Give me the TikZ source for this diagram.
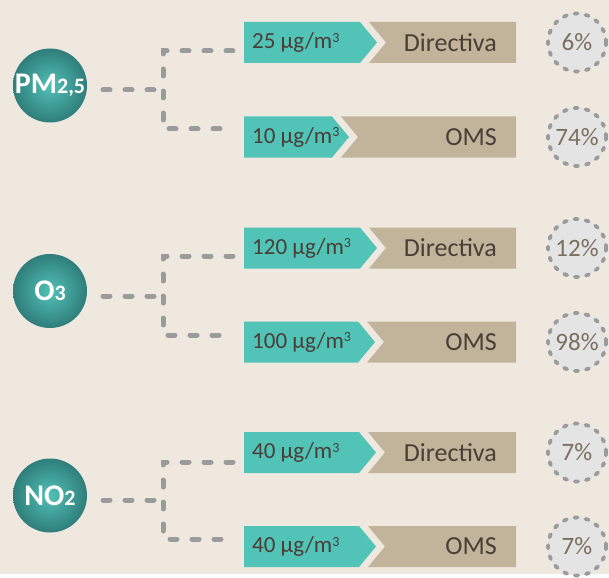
\documentclass[tikz,border=0pt]{standalone}
\usepackage{fontspec}
\setmainfont{Carlito}

\definecolor{paper}{HTML}{EFE8DF}
\definecolor{tealband}{HTML}{52C3B7}
\definecolor{tanband}{HTML}{C2B49A}
\definecolor{bandtext}{HTML}{4A3E37}
\definecolor{linkgray}{HTML}{9B9B9B}
\definecolor{pctfill}{HTML}{E4E4E4}
\definecolor{pcttext}{HTML}{7B6F5F}
\definecolor{ballin}{HTML}{52C1B6}
\definecolor{ballout}{HTML}{2F7E7B}

\newcommand{\cubic}{\raisebox{6.5pt}{\fontsize{14}{14}\selectfont 3}}

\tikzset{
  ball/.style={circle, minimum size=74pt, inner sep=0pt, shading=radial,
    inner color=ballin, outer color=ballout, text=white, font=\bfseries},
  link/.style={draw=linkgray, line width=5pt, line cap=round,
    dash pattern=on 7pt off 15pt},
  valtext/.style={anchor=west, inner sep=0pt, text=bandtext,
    font=\fontsize{23}{23}\selectfont},
  labtext/.style={anchor=east, inner sep=0pt, text=bandtext,
    font=\fontsize{26}{26}\selectfont},
  pct/.style={circle, minimum size=58pt, inner sep=0pt, fill=pctfill,
    draw=linkgray, line width=3.8pt, line cap=round,
    dash pattern=on 3.2pt off 8pt, text=pcttext,
    font=\fontsize{25}{25}\selectfont}
}

% #1 name, #2 mid y, #3 end of teal part, #4 value, #5 label, #6 share
\newcommand{\band}[6]{%
  \fill[tealband] (244,#2-20.5) -- (#3,#2-20.5) -- (#3+17,#2)
    -- (#3,#2+20.5) -- (244,#2+20.5) -- cycle;
  \fill[tanband] (#3+9,#2-20.5) -- (516,#2-20.5) -- (516,#2+20.5)
    -- (#3+9,#2+20.5) -- (#3+26,#2) -- cycle;
  \node[valtext] (#1-val) at (252,#2) {#4};
  \node[labtext] (#1-lab) at (497,#2) {#5};
  \node[pct] (#1-pct) at (577,#2) {#6};
}

\begin{document}
\begin{tikzpicture}[x=1pt, y=-1pt]
    \fill[paper] (0,0) rectangle (609,574);

    % pollutants
    \node[ball] (pm) at (50,85.5)
      {{\fontsize{30}{30}\selectfont PM}{\fontsize{22}{22}\selectfont 2,5}};
    \node[ball] (o3) at (50,291)
      {{\fontsize{30}{30}\selectfont O}{\fontsize{22}{22}\selectfont 3}};
    \node[ball] (no2) at (50,495.5)
      {{\fontsize{30}{30}\selectfont NO}{\fontsize{22}{22}\selectfont 2}};

    % limits
    \band{pmd}{42.5}{360}{25 µg/m\cubic}{Directiva}{6\%}
    \band{pmo}{137}{332}{10 µg/m\cubic}{OMS}{74\%}
    \band{o3d}{248}{360}{120 µg/m\cubic}{Directiva}{12\%}
    \band{o3o}{342}{358}{100 µg/m\cubic}{OMS}{98\%}
    \band{nod}{452.5}{359}{40 µg/m\cubic}{Directiva}{7\%}
    \band{noo}{546.5}{359}{40 µg/m\cubic}{OMS}{7\%}

    % branches
    \coordinate (pm-a) at (103,90);
    \coordinate (pm-j) at (163,90);
    \coordinate (pm-t) at (233,51);
    \coordinate (pm-b) at (233,129);
    \draw[link] (pm-a) -- (pm-j);
    \draw[link] (pm-t) -| (pm-j) |- (pm-b);

    \coordinate (o3-a) at (103,296);
    \coordinate (o3-j) at (163,296);
    \coordinate (o3-t) at (233,256);
    \coordinate (o3-b) at (233,335);
    \draw[link] (o3-a) -- (o3-j);
    \draw[link] (o3-t) -| (o3-j) |- (o3-b);

    \coordinate (no2-a) at (103,500);
    \coordinate (no2-j) at (163,500);
    \coordinate (no2-t) at (233,462);
    \coordinate (no2-b) at (233,539);
    \draw[link] (no2-a) -- (no2-j);
    \draw[link] (no2-t) -| (no2-j) |- (no2-b);
\end{tikzpicture}
\end{document}
